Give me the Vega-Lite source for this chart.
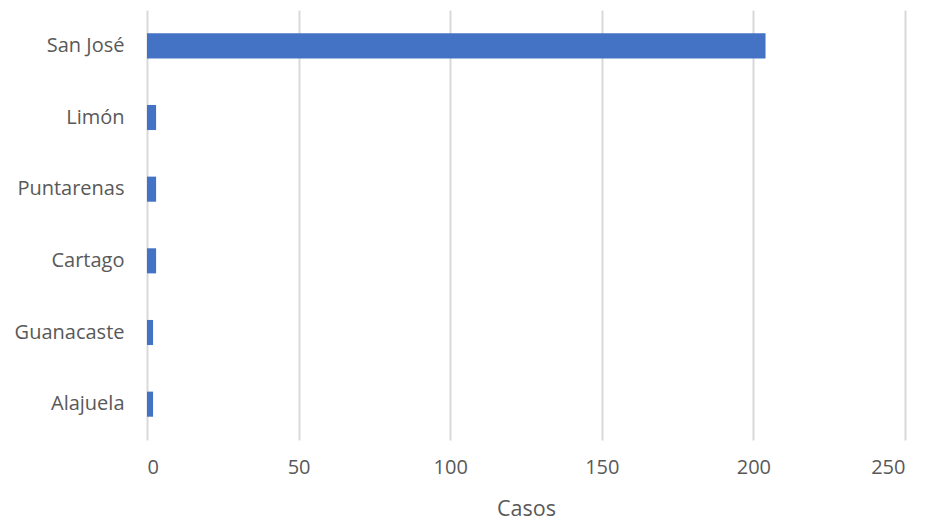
{
  "$schema": "https://vega.github.io/schema/vega-lite/v6.json",
  "autosize": "none",
  "width": 758,
  "height": 430,
  "padding": {"left": 147, "top": 10, "right": 20, "bottom": 83},
  "background": "white",
  "data": {
    "values": [
      {"provincia": "San José", "casos": 204},
      {"provincia": "Limón", "casos": 3},
      {"provincia": "Puntarenas", "casos": 3},
      {"provincia": "Cartago", "casos": 3},
      {"provincia": "Guanacaste", "casos": 2},
      {"provincia": "Alajuela", "casos": 2}
    ]
  },
  "mark": {"type": "bar", "color": "#4472C4"},
  "encoding": {
    "y": {
      "field": "provincia",
      "type": "nominal",
      "sort": ["San José", "Limón", "Puntarenas", "Cartago", "Guanacaste", "Alajuela"],
      "scale": {"paddingInner": 0.65, "paddingOuter": 0.325},
      "axis": {
        "title": null,
        "domain": false,
        "ticks": false,
        "labelPadding": 23,
        "labelFont": "Open Sans",
        "labelFontSize": 20,
        "labelColor": "#595959"
      }
    },
    "x": {
      "field": "casos",
      "type": "quantitative",
      "scale": {"domain": [0, 250]},
      "axis": {
        "title": "Casos",
        "values": [0, 50, 100, 150, 200, 250],
        "domain": false,
        "ticks": false,
        "grid": true,
        "gridColor": "#D9D9D9",
        "gridWidth": 2,
        "labelPadding": 17,
        "labelFont": "Open Sans",
        "labelFontSize": 20,
        "labelColor": "#595959",
        "titleFont": "Open Sans",
        "titleFontSize": 21.5,
        "titleFontWeight": "normal",
        "titleColor": "#595959",
        "titlePadding": 21
      }
    }
  },
  "config": {"view": {"stroke": null}}
}
